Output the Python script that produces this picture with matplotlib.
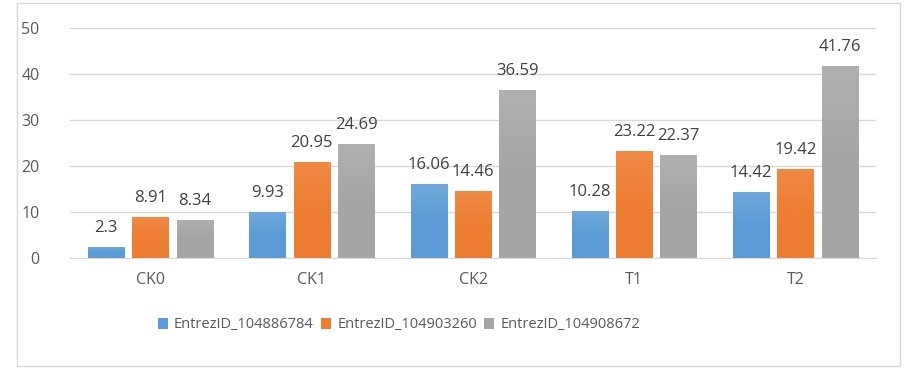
import numpy as np
import matplotlib.pyplot as plt
from matplotlib.patches import Rectangle
from matplotlib.colors import LinearSegmentedColormap

# data
categories = ['CK0', 'CK1', 'CK2', 'T1', 'T2']
series_names = ['EntrezID_104886784', 'EntrezID_104903260', 'EntrezID_104908672']
gene_a = [2.3, 9.93, 16.06, 10.28, 14.42]
gene_b = [8.91, 20.95, 14.46, 23.22, 19.42]
gene_c = [8.34, 24.69, 36.59, 22.37, 41.76]

plt.rcParams['font.family'] = ['Open Sans', 'DejaVu Sans']

fig = plt.figure(figsize=(9.14, 3.79), dpi=100)
ax = fig.add_axes([70/914, 1 - 258/379, 806/914, 230/379])

# outer chart border
fig.patches.append(Rectangle((17/914, 1 - 366/379), 883/914, 363/379,
                             transform=fig.transFigure, fill=False,
                             edgecolor='#d9d9d9', linewidth=1))

x = np.arange(len(categories))
width = 0.225
step = 0.275
colors = [('#5b9bd5', '#6fa8dc'),
          ('#ed7d31', '#f08a45'),
          ('#a5a5a5', '#b0b0b0')]

for i, (vals, name) in enumerate(zip([gene_a, gene_b, gene_c], series_names)):
    base, light = colors[i]
    bars = ax.bar(x + (i - 1) * step, vals, width, color=base, label=name, zorder=2)
    cmap = LinearSegmentedColormap.from_list('g%d' % i, [base, base, light])
    for b, v in zip(bars, vals):
        bx, bw = b.get_x(), b.get_width()
        grad = np.linspace(0, 1, 100).reshape(-1, 1)
        im = ax.imshow(grad, extent=[bx, bx + bw, 0, v], origin='lower',
                       cmap=cmap, aspect='auto', zorder=2.5)
        im.set_clip_path(b)
        ax.annotate('%g' % v, (bx + bw / 2, v), xytext=(0, 8),
                    textcoords='offset points', ha='center', va='bottom',
                    fontsize=12, color='#404040')

ax.set_xlim(-0.5, 4.5)
ax.set_ylim(0, 50)
ax.set_yticks(range(0, 51, 10))
ax.set_xticks(x)
ax.set_xticklabels(categories)
ax.tick_params(axis='both', length=0, labelsize=11.5, labelcolor='#595959')
ax.tick_params(axis='x', pad=10)
ax.tick_params(axis='y', pad=22)
ax.grid(axis='y', color='#d9d9d9', linewidth=1, zorder=0)
ax.set_axisbelow(True)
for s in ['top', 'right', 'left']:
    ax.spines[s].set_visible(False)
ax.spines['bottom'].set_color('#d9d9d9')

ax.legend(loc='center', bbox_to_anchor=(399/914, 1 - 325/379),
          bbox_transform=fig.transFigure, ncol=3, frameon=False,
          fontsize=10.5, handlelength=0.7, handleheight=0.7,
          handletextpad=0.4, columnspacing=0.5, labelcolor='#595959')

fig.savefig('out.png', dpi=100)
